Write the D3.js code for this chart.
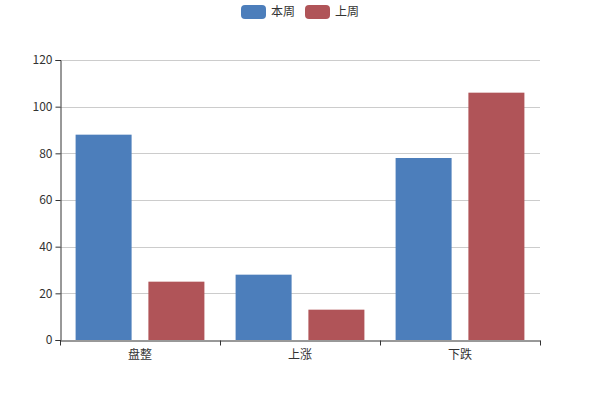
<!DOCTYPE html>
<html><head><meta charset="utf-8">
<script src="https://cdn.jsdelivr.net/npm/d3@7"></script>
<style>body{margin:0;background:#fff}svg{display:block;font-family:"Noto Sans CJK SC","Microsoft YaHei",sans-serif}</style>
</head><body>
<svg id="c" width="600" height="400"></svg>
<script>
const categories = ["盘整", "上涨", "下跌"];
const seriesNames = ["本周", "上周"];
const thisWeek = [88, 28, 78];
const lastWeek = [25, 13, 106];
const yTicks = [0, 20, 40, 60, 80, 100, 120];
const colors = ["#4c7ebb", "#b05458"];

const svg = d3.select("#c");
const m = {l: 60, r: 60, t: 60, b: 60};
const W = 600, H = 400;
const x = d3.scaleBand().domain(categories).range([m.l, W - m.r]).paddingInner(0).paddingOuter(0);
const y = d3.scaleLinear().domain([0, 120]).range([H - m.b, m.t]);

// grid
svg.append("g").selectAll("line").data(yTicks.filter(d => d > 0)).join("line")
  .attr("x1", m.l).attr("x2", W - m.r)
  .attr("y1", d => Math.round(y(d)) + 0.5).attr("y2", d => Math.round(y(d)) + 0.5)
  .attr("stroke", "#ccc").attr("stroke-width", 1);

// bars
const data = categories.map((c, i) => ({c, vals: [thisWeek[i], lastWeek[i]]}));
const bw = x.bandwidth() * 0.35;
const gap = bw * 0.3;
const outer = (x.bandwidth() - 2 * bw - gap) / 2;
const g = svg.append("g");
data.forEach(d => {
  d.vals.forEach((v, j) => {
    g.append("rect")
      .attr("x", x(d.c) + outer + j * (bw + gap))
      .attr("y", y(v))
      .attr("width", bw)
      .attr("height", y(0) - y(v))
      .attr("fill", colors[j]);
  });
});

// y axis
const ya = svg.append("g").attr("transform", `translate(${m.l + 0.5},0)`)
  .call(d3.axisLeft(y).tickValues(yTicks).tickSize(5).tickPadding(3));
ya.select(".domain").attr("stroke", "#333");
ya.selectAll(".tick line").attr("stroke", "#333");
ya.selectAll("text").attr("fill", "#333").attr("font-size", 12).attr("font-family", "'Noto Sans CJK SC',sans-serif");

// x axis
const xa = svg.append("g").attr("transform", `translate(0,${H - m.b + 0.5})`)
  .call(d3.axisBottom(x).tickSize(0).tickPadding(10));
xa.select(".domain").attr("stroke", "#333");
xa.selectAll("text").attr("fill", "#333").attr("font-size", 12).attr("font-family", "'Noto Sans CJK SC',sans-serif");
const bounds = categories.map(c => x(c)).concat([x(categories[categories.length - 1]) + x.bandwidth()]);
xa.selectAll(".bt").data(bounds).join("line").attr("class", "bt")
  .attr("x1", d => Math.round(d) + 0.5).attr("x2", d => Math.round(d) + 0.5)
  .attr("y1", 0).attr("y2", 5).attr("stroke", "#333");

// legend
const lg = svg.append("g");
const lx = [241, 305];
seriesNames.forEach((s, i) => {
  lg.append("rect").attr("x", lx[i]).attr("y", 5).attr("width", 25).attr("height", 14)
    .attr("rx", 4).attr("fill", colors[i]);
  lg.append("text").attr("x", lx[i] + 30).attr("y", 12).attr("dy", "0.35em")
    .attr("font-size", 12).attr("fill", "#333").text(s);
});
</script>
</body></html>
